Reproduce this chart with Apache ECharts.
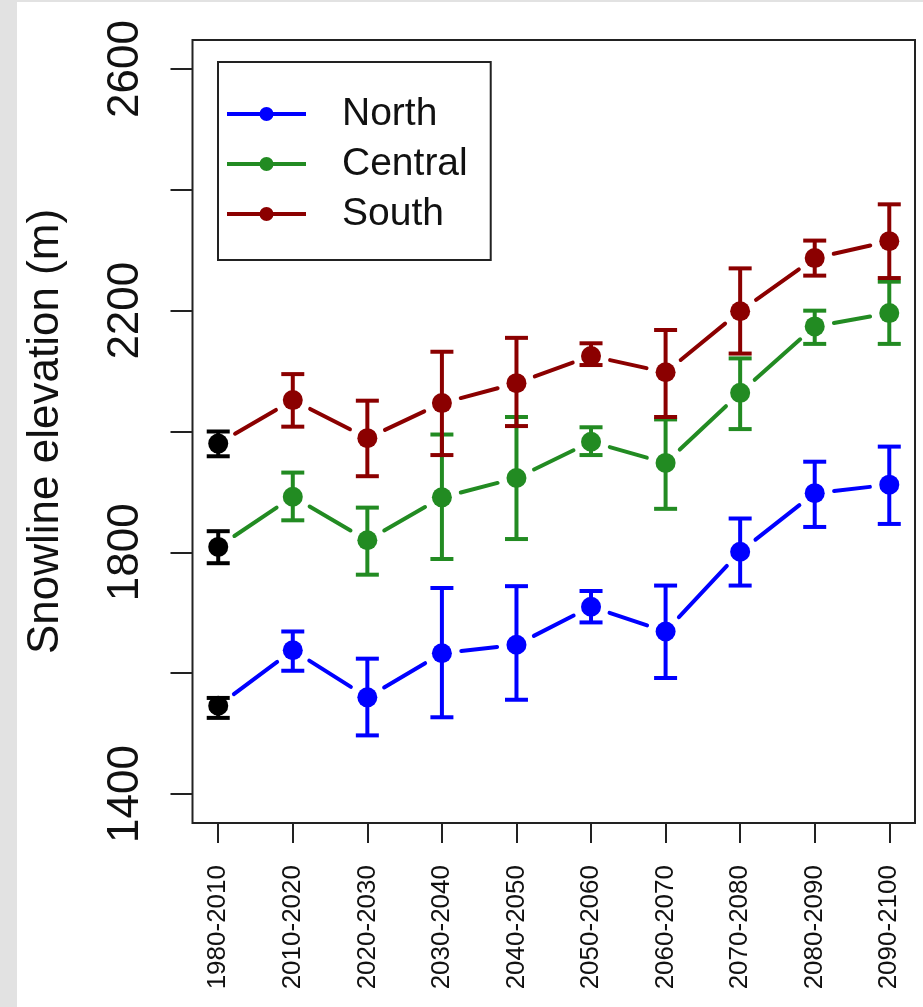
<!DOCTYPE html>
<html>
<head>
<meta charset="utf-8">
<script src="https://cdn.jsdelivr.net/npm/echarts@6/dist/echarts.min.js"></script>
<style>
html,body{margin:0;padding:0;background:#e2e2e2;}
#main{position:absolute;left:17px;top:2px;width:906px;height:1005px;background:#fff;}
</style>
</head>
<body>
<div id="main"></div>
<script>
// periods on the x axis
var periods = ['1980-2010','2010-2020','2020-2030','2030-2040','2040-2050','2050-2060','2060-2070','2070-2080','2080-2090','2090-2100'];
var yTicks = [1400,1600,1800,2000,2200,2400,2600];
var yLabels = [1400,1800,2200,2600];

var northMean = [1546,1638,1560,1633,1647,1710,1669,1801,1898,1912];
var northLow  = [1526,1604,1497,1527,1556,1684,1592,1745,1842,1847];
var northHigh = [1559,1669,1624,1741,1744,1736,1745,1856,1950,1975];

var centralMean = [1809,1892,1820,1891,1923,1983,1948,2064,2174,2196];
var centralLow  = [1782,1853,1763,1789,1822,1961,1872,2004,2145,2145];
var centralHigh = [1835,1932,1874,1995,2024,2007,2020,2121,2200,2248];

var southMean = [1980,2052,1989,2047,2080,2125,2098,2199,2287,2315];
var southLow  = [1959,2008,1926,1961,2009,2110,2024,2129,2258,2254];
var southHigh = [2000,2095,2051,2132,2155,2146,2168,2270,2316,2376];

var FONT = '"Liberation Sans", Arial, sans-serif';
// line + dot legend symbol (both sub paths clockwise so they fill as one)
var legendIcon = 'path://M0,5h79v4h-79z M32.5,7a7,7 0 1,1 14,0a7,7 0 1,1 -14,0z';

var chart = echarts.init(document.getElementById('main'));

function makeSeries(name, color, mean, low, high){
	var data = [];
	for(var i=0;i<mean.length;i++){
		data.push([i, mean[i], low[i], high[i]]);
	}
	return {
		name: name,
		type: 'custom',
		color: color,
		data: data,
		encode: {x:0, y:1},
		renderItem: function(params, api){
			var i = api.value(0);
			var p = api.coord([i, api.value(1)]);
			var lo = api.coord([i, api.value(2)]);
			var hi = api.coord([i, api.value(3)]);
			var c = i===0 ? '#000' : color;   // reference period is drawn in black
			var kids = [];
			// line to the next point, with gaps round the markers (like R type="b")
			if(i < mean.length-1){
				var q = api.coord([i+1, mean[i+1]]);
				var dx = q[0]-p[0], dy = q[1]-p[1];
				var len = Math.sqrt(dx*dx+dy*dy);
				var g = 19.5;
				if(len > 2*g){
					kids.push({type:'line', shape:{
						x1:p[0]+dx*g/len, y1:p[1]+dy*g/len,
						x2:q[0]-dx*g/len, y2:q[1]-dy*g/len},
						style:{stroke:color, lineWidth:4, lineCap:'round'}});
				}
			}
			var w = 11.5;
			kids.push({type:'line', shape:{x1:p[0],y1:lo[1],x2:p[0],y2:hi[1]}, style:{stroke:c,lineWidth:4}});
			kids.push({type:'line', shape:{x1:p[0]-w,y1:lo[1],x2:p[0]+w,y2:lo[1]}, style:{stroke:c,lineWidth:4}});
			kids.push({type:'line', shape:{x1:p[0]-w,y1:hi[1],x2:p[0]+w,y2:hi[1]}, style:{stroke:c,lineWidth:4}});
			kids.push({type:'circle', shape:{cx:p[0],cy:p[1],r:10}, style:{fill:c}});
			return {type:'group', children:kids};
		}
	};
}

var option = {
	animation: false,
	backgroundColor: '#fff',
	grid: {
		left: 175.5, right: 8, top: 38, bottom: 184,
		outerBoundsMode: 'none',
		show: true, borderColor: '#222', borderWidth: 2, backgroundColor: 'transparent'
	},
	legend: {
		orient: 'vertical',
		left: 201, top: 60,
		padding: [32, 23, 26, 9],
		borderColor: '#222', borderWidth: 2,
		itemWidth: 79, itemHeight: 14, itemGap: 10,
		textStyle: {fontFamily: FONT, fontSize: 39, color: '#111', lineHeight: 40, padding: [0,0,0,31]},
		data: [
			{name:'North', icon: legendIcon, itemStyle:{color:'#0000ff'}},
			{name:'Central', icon: legendIcon, itemStyle:{color:'#228b22'}},
			{name:'South', icon: legendIcon, itemStyle:{color:'#8b0000'}}
		]
	},
	xAxis: {
		type: 'value',
		min: -0.345, max: 9.345,
		axisLine: {show: false, onZero: false},
		splitLine: {show: false},
		axisTick: {show: true, customValues: [0,1,2,3,4,5,6,7,8,9], length: 20, lineStyle: {color:'#222', width: 2}},
		axisLabel: {
			customValues: [0,1,2,3,4,5,6,7,8,9],
			formatter: function(v){ return periods[v]; },
			rotate: 90, margin: 42,
			fontFamily: FONT, fontSize: 26, color: '#111'
		}
	},
	yAxis: {
		type: 'value',
		min: 1352, max: 2648,
		name: 'Snowline elevation (m)',
		nameLocation: 'middle', nameGap: 125,
		nameTextStyle: {fontFamily: FONT, fontSize: 44, color: '#111'},
		axisLine: {show: false, onZero: false},
		splitLine: {show: false},
		axisTick: {show: true, customValues: yTicks, length: 22, lineStyle: {color:'#222', width: 2}},
		axisLabel: {
			customValues: yLabels,
			formatter: function(v){ return String(v); },
			rotate: 90, margin: 45,
			fontFamily: FONT, fontSize: 44, color: '#111'
		}
	},
	series: [
		makeSeries('North', '#0000ff', northMean, northLow, northHigh),
		makeSeries('Central', '#228b22', centralMean, centralLow, centralHigh),
		makeSeries('South', '#8b0000', southMean, southLow, southHigh)
	]
};
chart.setOption(option);
</script>
</body>
</html>
